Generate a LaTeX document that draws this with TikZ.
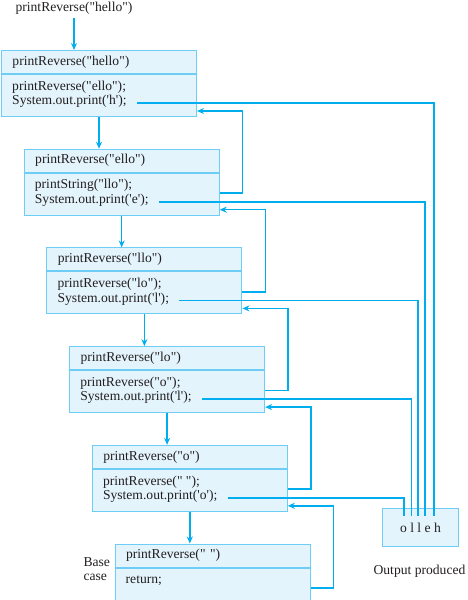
\documentclass[tikz,border=0pt]{standalone}
\usepackage{fontspec}
\setmainfont{Liberation Serif}[Ligatures=TeXOff]
\usetikzlibrary{positioning,arrows.meta}
\definecolor{flow}{RGB}{0,174,239}
\definecolor{frame}{RGB}{110,205,245}
\definecolor{panel}{RGB}{228,244,253}
\definecolor{ink}{RGB}{35,31,32}

\begin{document}
\begin{tikzpicture}[x=1pt,y=-1pt,
font=\fontsize{13.6}{14}\selectfont, text=ink,
head/.style={rectangle, draw=frame, fill=panel, line width=1pt, minimum width=195pt, minimum height=23pt, text width=173pt, inner xsep=11pt, align=left},
body/.style={rectangle, draw=frame, fill=panel, line width=1pt, minimum width=195pt, minimum height=42pt, below=0pt of #1, anchor=north},
code/.style={inner sep=0pt, text height=10pt, text depth=4pt},
call/.style={draw=flow, line width=1.5pt, -{Stealth[length=7pt,width=6pt]}},
outline/.style={draw=flow, line width=1.5pt}
]
\useasboundingbox (0,0) rectangle (467,600);

\node(start) at (74,8) {printReverse("hello")};

% the calls
\node[head](h1)[anchor=north west] at (1,50) {printReverse("hello")};
\node[body=h1](b1){};
\node[code](r1)[below right=6pt and 11pt of b1.north west]{printReverse("ello");};
\node[code](s1)[below=0pt of r1.south west,anchor=north west]{System.out.print('h');};

\node[head](h2)[below right=31.7pt and 22.7pt of b1.south west]{printReverse("ello")};
\node[body=h2](b2){};
\node[code](r2)[below right=6pt and 11pt of b2.north west]{printString("llo");};
\node[code](s2)[below=0pt of r2.south west,anchor=north west]{System.out.print('e');};

\node[head](h3)[below right=31.7pt and 22.7pt of b2.south west]{printReverse("llo")};
\node[body=h3](b3){};
\node[code](r3)[below right=6pt and 11pt of b3.north west]{printReverse("lo");};
\node[code](s3)[below=0pt of r3.south west,anchor=north west]{System.out.print('l');};

\node[head](h4)[below right=31.7pt and 22.7pt of b3.south west]{printReverse("lo")};
\node[body=h4](b4){};
\node[code](r4)[below right=6pt and 11pt of b4.north west]{printReverse("o");};
\node[code](s4)[below=0pt of r4.south west,anchor=north west]{System.out.print('l');};

\node[head](h5)[below right=31.7pt and 22.7pt of b4.south west]{printReverse("o")};
\node[body=h5](b5){};
\node[code](r5)[below right=6pt and 11pt of b5.north west]{printReverse(" ");};
\node[code](s5)[below=0pt of r5.south west,anchor=north west]{System.out.print('o');};

\node[head](h6)[below right=31.7pt and 22.7pt of b5.south west]{printReverse(" ")};
\node[body=h6](b6){};
\node[code](r6)[below right=6pt and 11pt of b6.north west]{return;};

\node(base)[align=left,anchor=west] at (80,569) {Base\\case};

% output
\node[rectangle, draw=frame, fill=panel, line width=1pt, minimum width=75.6pt, minimum height=37.6pt](out) at (420.5,527.5) {o l l e h};
\node(produced) at (419.5,571) {Output produced};

\draw[call] (start.south) -- (start.south |- h1.north);
\draw[call] (b1.south) -- (b1.south |- h2.north);
\draw[call] (b2.south) -- (b2.south |- h3.north);
\draw[call] (b3.south) -- (b3.south |- h4.north);
\draw[call] (b4.south) -- (b4.south |- h5.north);
\draw[call] (b5.south) -- (b5.south |- h6.north);

% returns
\draw[call] (b2.east |- r2.south) -- ++(23,0) |- ([yshift=6pt]b1.south east);
\draw[call] (b3.east |- r3.south) -- ++(23,0) |- ([yshift=6pt]b2.south east);
\draw[call] (b4.east |- r4.south) -- ++(23,0) |- ([yshift=6pt]b3.south east);
\draw[call] (b5.east |- r5.south) -- ++(23,0) |- ([yshift=6pt]b4.south east);
\draw[call] (b6.east |- r6.south) -- ++(23,0) |- ([yshift=6pt]b5.south east);

\draw[outline] ([xshift=10pt,yshift=-1.5pt]s1.east) -| ([xshift=13.5pt,yshift=-8pt]out.north);
\draw[outline] ([xshift=10pt,yshift=-1.5pt]s2.east) -| ([xshift=4.5pt,yshift=-8pt]out.north);
\draw[outline] ([xshift=10pt,yshift=-1.5pt]s3.east) -| ([xshift=-2.5pt,yshift=-8pt]out.north);
\draw[outline] ([xshift=10pt,yshift=-1.5pt]s4.east) -| ([xshift=-8.8pt,yshift=-8pt]out.north);
\draw[outline] ([xshift=10pt,yshift=-1.5pt]s5.east) -| ([xshift=-16.5pt,yshift=-8pt]out.north);
\end{tikzpicture}
\end{document}
